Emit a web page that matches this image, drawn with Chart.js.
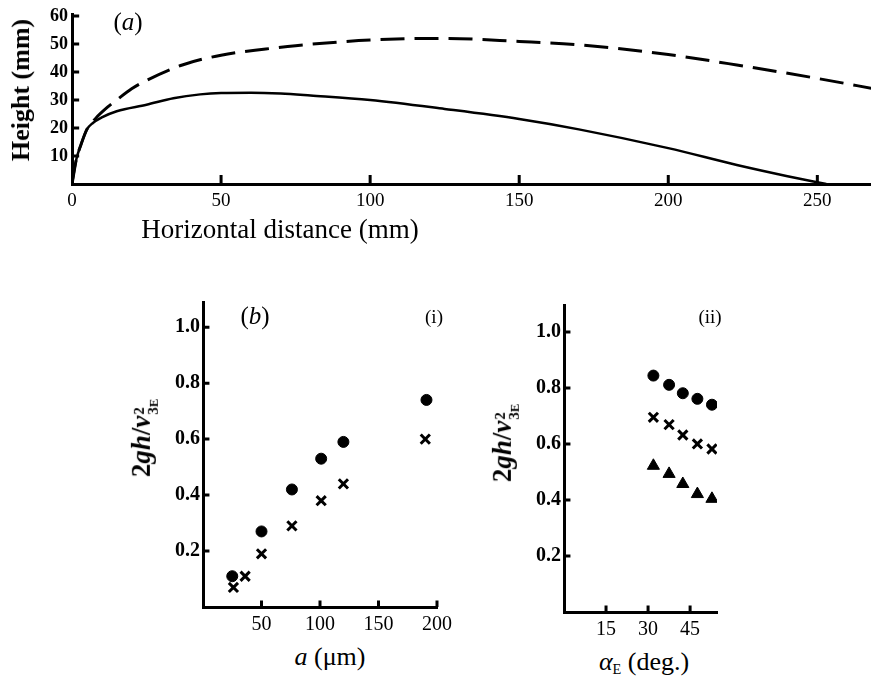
<!DOCTYPE html>
<html>
<head>
<meta charset="utf-8">
<script src="https://cdn.jsdelivr.net/npm/chart.js@4.4.1/dist/chart.umd.min.js"></script>
<style>
  body { margin: 0; background: #fff; }
  #page { position: relative; width: 871px; height: 679px; overflow: hidden; }
  canvas { position: absolute; }
  .lbl { position: absolute; white-space: nowrap; font-family: "Liberation Serif", "DejaVu Serif", serif;
         color: #000; line-height: 1; transform: translate(-50%, -50%); }
  .rot { transform: translate(-50%, -50%) rotate(-90deg); }
  .ss { display: inline-block; font-size: 0.55em; line-height: 0.95; vertical-align: -0.55em;
        text-align: left; margin-left: 1px; }
  .sc { font-size: 0.85em; }
</style>
</head>
<body>
<div id="page">
  <canvas id="chartA" width="871" height="240" style="left:0;top:0"></canvas>
  <canvas id="chartB1" width="320" height="345" style="left:150px;top:290px"></canvas>
  <canvas id="chartB2" width="240" height="350" style="left:510px;top:290px"></canvas>

  <div class="lbl rot" style="left:21px;top:90px;font-size:26px;font-weight:bold">Height (mm)</div>
  <div class="lbl" style="left:280px;top:229px;font-size:27px">Horizontal distance (mm)</div>
  <div class="lbl" style="left:128px;top:21px;font-size:25px">(<i>a</i>)</div>

  <div class="lbl" style="left:255px;top:315px;font-size:25px">(<i>b</i>)</div>
  <div class="lbl" style="left:434px;top:316px;font-size:19px">(i)</div>
  <div class="lbl" style="left:710px;top:316px;font-size:19px">(ii)</div>

  <div class="lbl rot" style="left:144px;top:438px;font-size:27px;font-weight:bold">2<i>gh</i>/<i>v</i><span class="ss">2<br>3<span class="sc">E</span></span></div>
  <div class="lbl rot" style="left:505px;top:443px;font-size:27px;font-weight:bold">2<i>gh</i>/<i>v</i><span class="ss">2<br>3<span class="sc">E</span></span></div>

  <div class="lbl" style="left:330px;top:657px;font-size:26px"><i>a</i> (μm)</div>
  <div class="lbl" style="left:644px;top:663px;font-size:26px"><i>α</i><span style="font-size:0.55em;vertical-align:-0.3em">E</span> (deg.)</div>
</div>

<script>
// (a) trajectory curves: horizontal distance (mm) vs height (mm)
const solidDist   = [0, 1.5, 3, 5, 7, 10, 15, 25, 34, 43, 50, 60, 70, 80, 100, 125, 150, 170, 200, 223, 240, 253];
const solidHeight = [0, 9, 14, 19.5, 21.8, 23.8, 26, 28.3, 30.6, 32, 32.5, 32.6, 32.3, 31.6, 30, 26.8, 23.2, 19.5, 12.8, 6.8, 2.8, 0];
const dashDist    = [0, 1.5, 3, 5, 8, 12, 15, 20, 25, 37, 50, 65, 75, 100, 125, 150, 170, 200, 223, 250, 270];
const dashHeight  = [0, 9, 14, 19.5, 23.5, 27.5, 30, 34, 37, 42.5, 46, 48.2, 49.4, 51.4, 52, 50.9, 49.7, 46.2, 42.5, 37.7, 33.8];
const ticksAx = [0, 50, 100, 150, 200, 250];
const ticksAy = [10, 20, 30, 40, 50, 60];

// (b)(i) 2gh/v3E^2 vs particle size a (µm)
const sizeDot   = [25, 50, 76, 101, 120, 191];
const ratioDot  = [0.11, 0.27, 0.42, 0.53, 0.59, 0.74];
const sizeCross = [26, 36, 50, 76, 101, 120, 190];
const ratioCross = [0.07, 0.11, 0.19, 0.29, 0.38, 0.44, 0.60];
const ticksB1x = [50, 100, 150, 200];
const ticksBy  = [0.2, 0.4, 0.6, 0.8, 1.0];

// (b)(ii) 2gh/v3E^2 vs angle alpha_E (deg.)
const angles = [31.9, 37.5, 42.4, 47.6, 52.8];
const angDot   = [0.844, 0.811, 0.781, 0.761, 0.74];
const angCross = [0.695, 0.669, 0.632, 0.60, 0.582];
const angTri   = [0.522, 0.493, 0.457, 0.421, 0.404];
const ticksB2x = [15, 30, 45];

const serif = '"Liberation Serif", "DejaVu Serif", serif';
Chart.defaults.font.family = serif;
Chart.defaults.color = '#000';

const pts = (xs, ys) => xs.map((x, i) => ({ x, y: ys[i] }));

// Inward tick marks: short segments at each tick value, lengths given in data units.
function tickMarks(xTicks, yTicks, xMin, yMin, xLen, yLen) {
  const data = [];
  xTicks.forEach(v => { if (v !== xMin) data.push({ x: v, y: yMin }, { x: v, y: yMin + yLen }, { x: v, y: null }); });
  yTicks.forEach(v => { if (v !== yMin) data.push({ x: xMin, y: v }, { x: xMin + xLen, y: v }, { x: xMin, y: null }); });
  return {
    data, showLine: true, spanGaps: false, pointRadius: 0, borderColor: '#000',
    borderWidth: 3, tension: 0, clip: false, borderCapStyle: 'butt',
  };
}

function axis(min, max, ticks, size, font, pad, fmt, horizontal) {
  return {
    type: 'linear', min, max,
    grid: { display: false, drawTicks: false },
    border: { display: true, color: '#000', width: 3 },
    afterBuildTicks: (s) => { s.ticks = ticks.map(v => ({ value: v })); },
    afterFit: (s) => {
      if (horizontal) s.height = size; else s.width = size;
      s.paddingLeft = 0; s.paddingRight = 0; s.paddingTop = 0; s.paddingBottom = 0;
    },
    ticks: { font, padding: pad, maxRotation: 0, autoSkip: false, callback: fmt },
  };
}

function plot(id, datasets, x, y, padding) {
  new Chart(document.getElementById(id), {
    type: 'scatter',
    data: { datasets },
    options: {
      responsive: false,
      animation: false,
      layout: { padding },
      plugins: { legend: { display: false }, tooltip: { enabled: false } },
      scales: { x, y },
    },
  });
}

const curve = (data, dash, width) => ({
  data, showLine: true, pointRadius: 0, borderColor: '#000', borderWidth: width,
  borderDash: dash, cubicInterpolationMode: 'monotone', fill: false,
});
const marks = (data, style, r) => ({
  data, pointStyle: style, pointRadius: r, showLine: false,
  backgroundColor: '#000', borderColor: '#000', borderWidth: style === 'crossRot' ? 3 : 1,
});

plot('chartA',
  [curve(pts(solidDist, solidHeight), [], 2.5), curve(pts(dashDist, dashHeight), [24, 10], 3),
   tickMarks(ticksAx, ticksAy, 0, 0, 2.4, 3.2)],
  axis(0, 268, ticksAx, 56, { size: 19 }, 6, (v) => String(v), true),
  axis(0, 60.7, ticksAy, 72, { size: 18, weight: 'bold' }, 4, (v) => String(v), false),
  { top: 14, right: 0, left: 0, bottom: 0 });

plot('chartB1',
  [marks(pts(sizeDot, ratioDot), 'circle', 5.5), marks(pts(sizeCross, ratioCross), 'crossRot', 6.5),
   tickMarks(ticksB1x, ticksBy, 0, 0, 5.5, 0.023)],
  axis(0, 200, ticksB1x, 28, { size: 20 }, 6, (v) => String(v), true),
  axis(0, 1.09, ticksBy, 53, { size: 20, weight: 'bold' }, 3, (v) => v.toFixed(1), false),
  { top: 12, right: 33, left: 0, bottom: 0 });

plot('chartB2',
  [marks(pts(angles, angDot), 'circle', 5.5), marks(pts(angles, angCross), 'crossRot', 6.5),
   marks(pts(angles, angTri), 'triangle', 7), tickMarks(ticksB2x, ticksBy, 0, 0, 2.3, 0.023)],
  axis(0, 54.6, ticksB2x, 28, { size: 20 }, 6, (v) => String(v), true),
  axis(0, 1.096, ticksBy, 54, { size: 20, weight: 'bold' }, 3, (v) => v.toFixed(1), false),
  { top: 15, right: 33, left: 0, bottom: 0 });
</script>
</body>
</html>
